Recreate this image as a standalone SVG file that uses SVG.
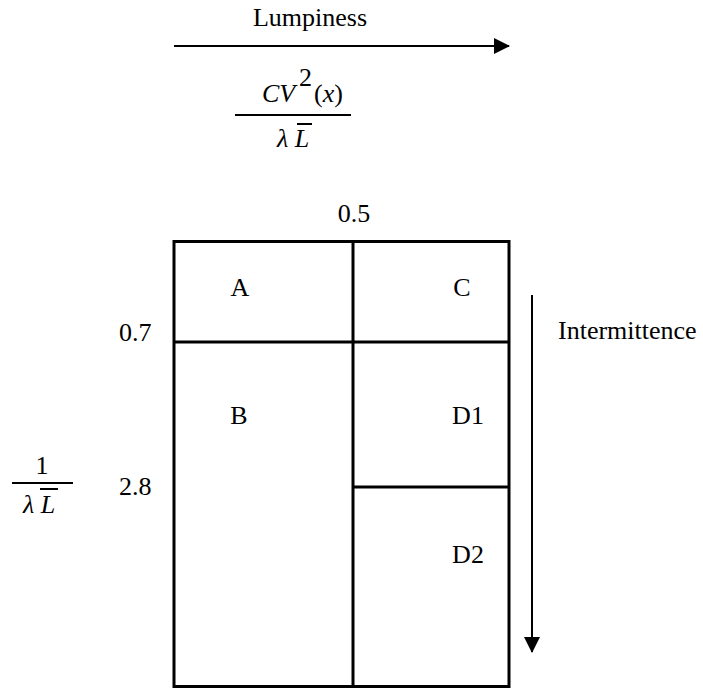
<svg xmlns="http://www.w3.org/2000/svg" width="703" height="688" viewBox="0 0 703 688">
<style>
text{font-family:"Liberation Serif","Times New Roman",serif;font-size:26px;fill:#000}
.it{font-style:italic}
.box{fill:none;stroke:#000;stroke-width:3}
.ln{stroke:#000;stroke-width:2;fill:none}
</style>
<defs>
<marker id="ah" markerWidth="16" markerHeight="16" refX="15" refY="8" orient="auto" markerUnits="userSpaceOnUse">
<path d="M0,0 L16,8 L0,16 Z" fill="#000"/>
</marker>
</defs>
<rect width="703" height="688" fill="#fff"/>
<g id="connectors">
<line class="ln" x1="174" y1="46" x2="509" y2="46" marker-end="url(#ah)"/>
<line class="ln" x1="532" y1="295" x2="532" y2="652" marker-end="url(#ah)"/>
</g>
<g id="lumpiness-label">
<text x="310" y="26" text-anchor="middle">Lumpiness</text>
</g>
<g id="lumpiness-formula">
<text x="262" y="102" class="it">CV</text>
<text x="299" y="86" font-size="20">2</text>
<text x="314" y="102">(<tspan class="it">x</tspan>)</text>
<line class="ln" x1="235" y1="115" x2="351" y2="115"/>
<text x="277" y="147"><tspan class="it">λ</tspan> <tspan class="it">L</tspan></text>
<line class="ln" x1="297" y1="124" x2="312" y2="124"/>
</g>
<g id="intermittence-formula">
<text x="42" y="474" text-anchor="middle">1</text>
<line class="ln" x1="12" y1="483" x2="73" y2="483"/>
<text x="23" y="513"><tspan class="it">λ</tspan> <tspan class="it">L</tspan></text>
<line class="ln" x1="40" y1="489" x2="58" y2="489"/>
</g>
<g id="intermittence-label">
<text x="558" y="339">Intermittence</text>
</g>
<g id="thresholds">
<text x="354" y="222" text-anchor="middle">0.5</text>
<text x="119" y="341">0.7</text>
<text x="119" y="495">2.8</text>
</g>
<g id="grid">
<rect class="box" x="174" y="241.5" width="335" height="445"/>
<line class="box" x1="353" y1="241.5" x2="353" y2="686.5"/>
<line class="box" x1="174" y1="342" x2="509" y2="342"/>
<line class="box" x1="353" y1="487" x2="509" y2="487"/>
</g>
<g id="A"><text x="240" y="296" text-anchor="middle">A</text></g>
<g id="C"><text x="462" y="296" text-anchor="middle">C</text></g>
<g id="B"><text x="239" y="424" text-anchor="middle">B</text></g>
<g id="D1"><text x="468" y="424" text-anchor="middle">D1</text></g>
<g id="D2"><text x="468" y="563" text-anchor="middle">D2</text></g>
</svg>
